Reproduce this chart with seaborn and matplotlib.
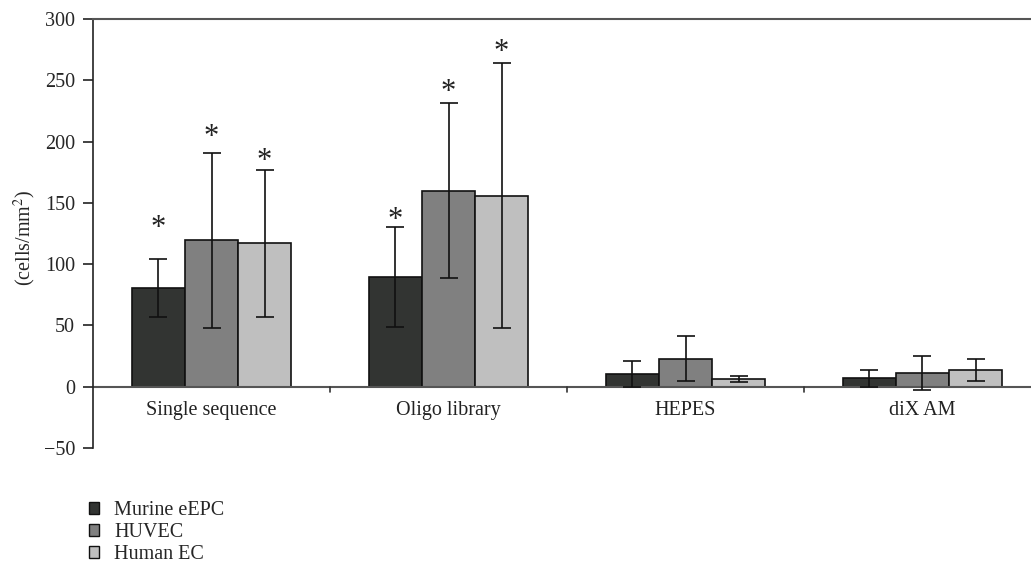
import matplotlib
matplotlib.use("Agg")
import matplotlib.pyplot as plt
from matplotlib.patches import Patch
import seaborn as sns
import pandas as pd

CATEGORIES = ["Single sequence", "Oligo library", "HEPES", "diX AM"]
CELL_TYPES = ["Murine eEPC", "HUVEC", "Human EC"]
COLORS = ["#323432", "#808080", "#bfbfbf"]

# mean values (cells/mm2) per cell type, in category order
MURINE_MEAN = [80.5, 89.5, 10.6, 7.0]
HUVEC_MEAN = [119.3, 160.0, 23.0, 11.2]
HUMAN_MEAN = [117.0, 156.0, 6.5, 13.3]

# error bar half-lengths
MURINE_ERR = [24, 41, 10.6, 7]
HUVEC_ERR = [71, 71.5, 18, 13.8]
HUMAN_ERR = [60, 108.5, 2.4, 9]

# asterisk heights (data units), None = no mark
MURINE_STAR = [129, 136, None, None]
HUVEC_STAR = [203, 240, None, None]
HUMAN_STAR = [184, 273, None, None]

sns.set_theme(style="white")
plt.rcParams["font.family"] = ["Liberation Serif", "DejaVu Serif"]
plt.rcParams["axes.unicode_minus"] = True
plt.rcParams["mathtext.fontset"] = "stix"

FS = 14.5

rows = []
for ct, means, errs, stars in zip(
        CELL_TYPES,
        [MURINE_MEAN, HUVEC_MEAN, HUMAN_MEAN],
        [MURINE_ERR, HUVEC_ERR, HUMAN_ERR],
        [MURINE_STAR, HUVEC_STAR, HUMAN_STAR]):
    for cat, m, e, s in zip(CATEGORIES, means, errs, stars):
        rows.append({"category": cat, "cell": ct, "value": m, "err": e, "star": s})
df = pd.DataFrame(rows)

fig = plt.figure(figsize=(10.31, 5.68), dpi=100)
ax = fig.add_axes([93 / 1031, 1 - 448 / 568, (1031 - 93) / 1031, (448 - 19) / 568])

sns.barplot(
    ax=ax, data=df, x="category", y="value", hue="cell",
    order=CATEGORIES, hue_order=CELL_TYPES, palette=COLORS,
    width=0.672, errorbar=None, edgecolor="#111111", linewidth=1.2,
    legend=False)

# error bars and significance marks
for container, ct in zip(ax.containers, CELL_TYPES):
    sub = df[df["cell"] == ct].set_index("category").loc[CATEGORIES]
    xs = [b.get_x() + b.get_width() / 2 for b in container]
    ax.errorbar(xs, sub["value"], yerr=sub["err"], fmt="none",
                ecolor="#111111", elinewidth=1.2, capsize=6.5, capthick=1.2,
                zorder=5)
    for x, s in zip(xs, sub["star"]):
        if pd.notna(s):
            ax.text(x, s, "*", ha="center", va="center", fontsize=22,
                    color="#222222")

ax.set_xlim(-0.5, 3.5 - 10 / 237)
ax.set_ylim(-50, 300)
ax.set_yticks(range(-50, 301, 50))
ax.set_xlabel("")
ax.set_ylabel("(cells/mm$^2$)", fontsize=FS)
ax.yaxis.set_label_coords(-0.059, 0.49)

# spines: left and top only, axis line at zero
for side in ["right", "bottom"]:
    ax.spines[side].set_visible(False)
ax.spines["left"].set_color("#222222")
ax.spines["left"].set_linewidth(1.2)
ax.spines["top"].set_color("#555555")
ax.spines["top"].set_linewidth(1.5)
ax.axhline(0, color="#555555", linewidth=1.5, zorder=1)
for xb in [0.5, 1.5, 2.5]:
    ax.plot([xb, xb], [0, -4], color="#333333", linewidth=1.2, clip_on=False)

ax.tick_params(axis="y", which="major", direction="out", length=7,
               width=1.2, color="#222222", labelsize=FS, pad=6, left=True)
ax.set_xticks(range(len(CATEGORIES)))
ax.set_xticklabels([])
ax.tick_params(axis="x", length=0)
# category labels just under the zero line
for i, cat in enumerate(CATEGORIES):
    ax.text(i, -12, cat, ha="center", va="top", fontsize=FS, color="#222222")

handles = [Patch(facecolor=c, edgecolor="#111111", linewidth=1.0) for c in COLORS]
fig.legend(handles, CELL_TYPES, loc="upper left",
           bbox_to_anchor=(77 / 1031, 1 - 489 / 568), frameon=False,
           fontsize=FS, handlelength=0.5, handleheight=0.5,
           handletextpad=0.75, labelspacing=0.15, borderpad=0.1)

fig.savefig("out.png", dpi=100)
